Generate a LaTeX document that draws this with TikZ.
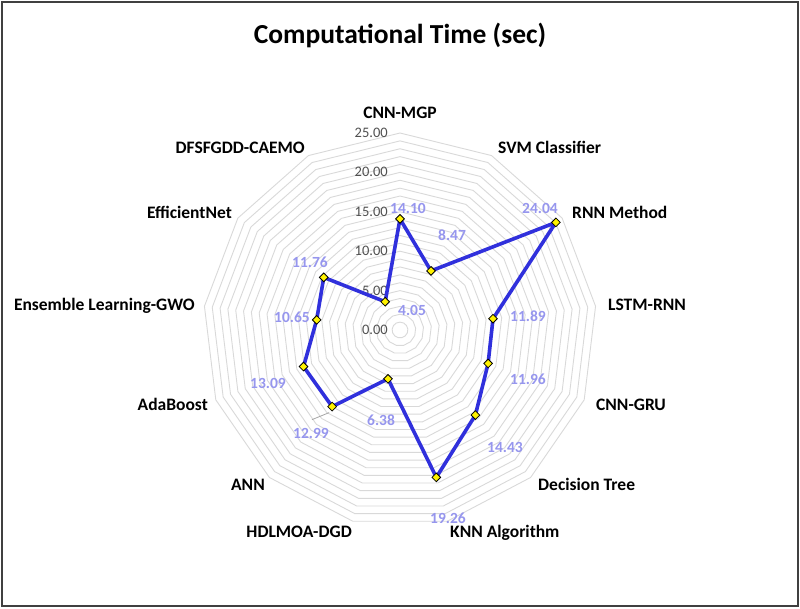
\documentclass[tikz,border=0pt]{standalone}
\usepackage{fontspec}
\setmainfont{Carlito}
\usepackage{xcolor}
\usepackage{tikz}
\usetikzlibrary{shapes.geometric,calc}

\definecolor{ringgray}{RGB}{217,217,217}
\definecolor{seriesblue}{RGB}{48,48,220}
\definecolor{valueblue}{RGB}{150,150,238}
\definecolor{tickgray}{RGB}{80,80,80}

\begin{document}
\begin{tikzpicture}[x=1pt,y=1pt,
    ring/.style={draw=ringgray, line width=0.9pt},
    series/.style={draw=seriesblue, line width=3.6pt, line join=round},
    marker/.style={diamond, draw=black, fill=yellow, line width=0.8pt, inner sep=0pt, minimum size=9pt},
    catlabel/.style={inner sep=0pt, font=\bfseries\fontsize{17.5}{21}\selectfont},
    ticklabel/.style={inner sep=0pt, anchor=base east, text=tickgray, font=\fontsize{14.5}{17}\selectfont},
    valuelabel/.style={inner sep=0pt, anchor=base, text=valueblue, font=\bfseries\fontsize{15.5}{18}\selectfont},
    leader/.style={draw=gray!70, line width=0.8pt}]
    \useasboundingbox (-400,-278) rectangle (400,330);
    \fill[white] (-400,-278) rectangle (400,330);
    \draw[black!75, line width=1.5pt] (-398,-276) rectangle (398,328);
    \node[font=\bfseries\fontsize{27.5}{33}\selectfont, anchor=base, inner sep=0pt] (title) at (0,286) {Computational Time (sec)};
    %
    % grid rings, one per unit
    \foreach \v in {1,...,25}
        \draw[ring] (90:{\v*7.88}) \foreach \k in {1,...,12} {-- ({90-\k*360/13}:{\v*7.88})} -- cycle;
    \foreach \v in {0,5,...,25}
        \node[ticklabel] (t\v) at (-12,{\v*7.88-4.6}) {\v.00};
    %
    % category labels
    \node[catlabel, anchor=base] (cnnmgp) at (0,211.5) {CNN-MGP};
    \node[catlabel, anchor=base west] (svm) at (98,176.5) {SVM Classifier};
    \node[catlabel, anchor=base west] (rnn) at (172,111.5) {RNN Method};
    \node[catlabel, anchor=base west] (lstm) at (208,19.5) {LSTM-RNN};
    \node[catlabel, anchor=base west] (cnngru) at (196,-80.5) {CNN-GRU};
    \node[catlabel, anchor=base west] (dtree) at (138,-160.5) {Decision Tree};
    \node[catlabel, anchor=base west] (knn) at (50,-207.5) {KNN Algorithm};
    \node[catlabel, anchor=base east] (hdlmoa) at (-48,-207.5) {HDLMOA-DGD};
    \node[catlabel, anchor=base east] (ann) at (-135,-160.5) {ANN};
    \node[catlabel, anchor=base east] (adaboost) at (-192,-80.5) {AdaBoost};
    \node[catlabel, anchor=base east] (ensemble) at (-205,19.5) {Ensemble Learning-GWO};
    \node[catlabel, anchor=base east] (effnet) at (-168,111.5) {EfficientNet};
    \node[catlabel, anchor=base east] (dfsfgdd) at (-95,176.5) {DFSFGDD-CAEMO};
    %
    % data series
    \foreach \val [count=\k from 0] in {14.10,8.47,24.04,11.89,11.96,14.43,19.26,6.38,12.99,13.09,10.65,11.76,4.05}
        \coordinate (p\k) at ({90-\k*360/13}:{\val*7.88});
    \draw[series] (p0) -- (p1) -- (p2) -- (p3) -- (p4) -- (p5) -- (p6) -- (p7) -- (p8) -- (p9) -- (p10) -- (p11) -- (p12) -- cycle;
    \foreach \k in {0,...,12}
        \node[marker] (m\k) at (p\k) {};
    %
    % value labels
    \node[valuelabel] (v0) at (8,117) {14.10};
    \node[valuelabel] (v1) at (52,89) {8.47};
    \node[valuelabel] (v2) at (140,117) {24.04};
    \node[valuelabel] (v3) at (128,9) {11.89};
    \node[valuelabel] (v4) at (128,-54) {11.96};
    \node[valuelabel] (v5) at (105,-122) {14.43};
    \node[valuelabel] (v6) at (48,-193) {19.26};
    \node[valuelabel] (v7) at (-19,-95) {6.38};
    \node[valuelabel] (v8) at (-89,-108) {12.99};
    \node[valuelabel] (v9) at (-132,-58) {13.09};
    \node[valuelabel] (v10) at (-108,8) {10.65};
    \node[valuelabel] (v11) at (-90,63) {11.76};
    \node[valuelabel] (v12) at (12,15) {4.05};
    \draw[leader] ([shift={(1,8)}]v8.north) -- ([shift={(-3,-6)}]p8);
\end{tikzpicture}
\end{document}
